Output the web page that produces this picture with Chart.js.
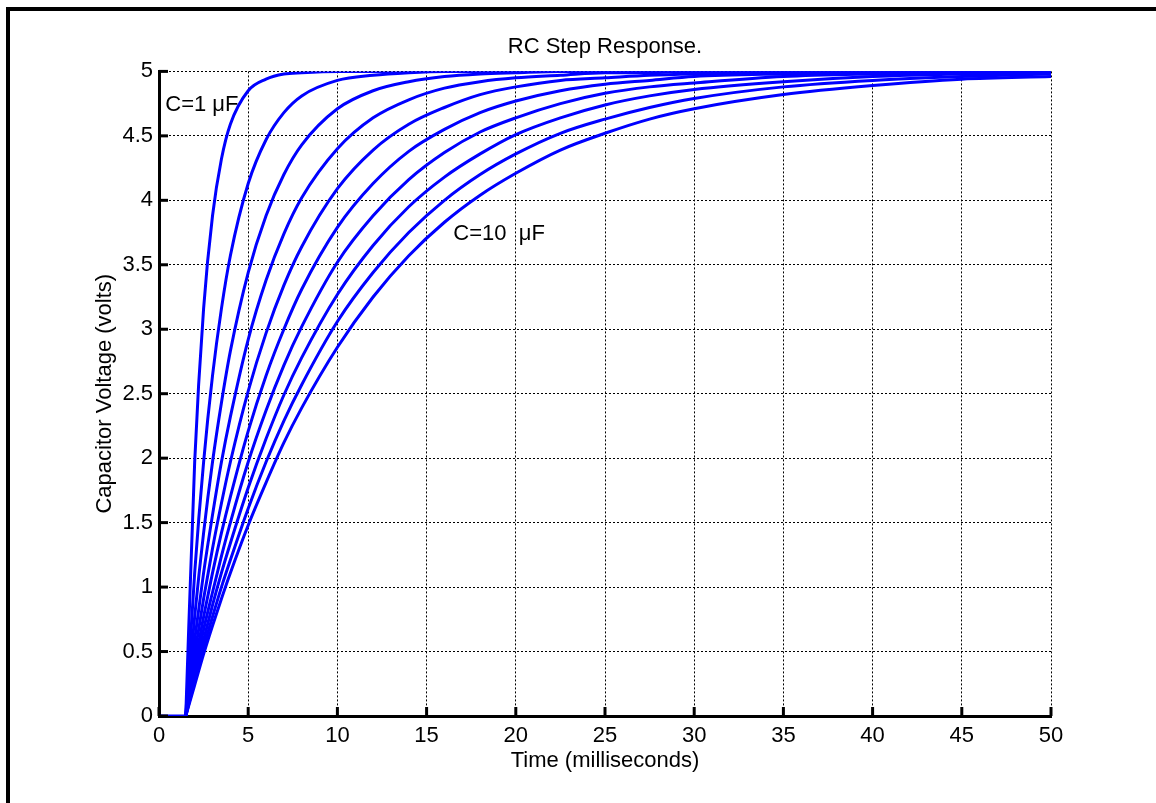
<!DOCTYPE html>
<html>
<head>
<meta charset="utf-8">
<title>RC Step Response</title>
<script src="https://cdn.jsdelivr.net/npm/chart.js@4.4.0/dist/chart.umd.min.js"></script>
<style>
  html, body { margin: 0; padding: 0; background: #fff; }
  #wrap { width: 1156px; height: 803px; }
</style>
</head>
<body>
<div id="wrap"><canvas id="chart" width="1156" height="803"></canvas></div>
<script>
// input is zero until the step at 1.5 ms
const preStepTime = [0, 1.5];
const preStepVolts = [0, 0];

// sample times (ms) after the step, shared by every curve
const timeMs = [1.5, 2, 2.5, 3, 3.5, 4, 5, 6, 7, 8, 10, 12, 14, 16, 18, 20, 22.5, 25, 27.5, 30, 35, 40, 45, 50];

// capacitor voltage (V), one list per capacitor value
const vC1  = [0, 1.97, 3.16, 3.88, 4.32, 4.59, 4.85, 4.94, 4.98, 4.99, 5, 5, 5, 5, 5, 5, 5, 5, 5, 5, 5, 5, 5, 5];
const vC2  = [0, 1.11, 1.97, 2.64, 3.16, 3.57, 4.13, 4.47, 4.68, 4.81, 4.93, 4.97, 4.99, 5, 5, 5, 5, 5, 5, 5, 5, 5, 5, 5];
const vC3  = [0, 0.77, 1.42, 1.97, 2.43, 2.83, 3.44, 3.88, 4.20, 4.43, 4.71, 4.85, 4.92, 4.96, 4.98, 4.99, 5, 5, 5, 5, 5, 5, 5, 5];
const vC4  = [0, 0.59, 1.11, 1.56, 1.97, 2.32, 2.92, 3.38, 3.74, 4.02, 4.40, 4.64, 4.78, 4.87, 4.92, 4.95, 4.97, 4.99, 4.99, 5, 5, 5, 5, 5];
const vC5  = [0, 0.48, 0.91, 1.30, 1.65, 1.97, 2.52, 2.97, 3.34, 3.64, 4.09, 4.39, 4.59, 4.72, 4.82, 4.88, 4.93, 4.95, 4.97, 4.98, 4.99, 5, 5, 5];
const vC6  = [0, 0.40, 0.77, 1.11, 1.42, 1.70, 2.21, 2.64, 3.00, 3.31, 3.79, 4.13, 4.38, 4.55, 4.68, 4.77, 4.85, 4.90, 4.93, 4.96, 4.98, 4.99, 5, 5];
const vC7  = [0, 0.34, 0.67, 0.96, 1.24, 1.50, 1.97, 2.37, 2.72, 3.02, 3.52, 3.88, 4.16, 4.37, 4.53, 4.64, 4.75, 4.83, 4.88, 4.91, 4.96, 4.98, 4.99, 5];
const vC8  = [0, 0.30, 0.59, 0.86, 1.11, 1.34, 1.77, 2.15, 2.49, 2.78, 3.27, 3.65, 3.95, 4.18, 4.36, 4.51, 4.64, 4.74, 4.81, 4.86, 4.92, 4.96, 4.98, 4.99];
const vC9  = [0, 0.27, 0.53, 0.77, 1.00, 1.21, 1.61, 1.97, 2.29, 2.57, 3.06, 3.44, 3.75, 4.00, 4.20, 4.36, 4.52, 4.63, 4.72, 4.79, 4.88, 4.93, 4.96, 4.98];
const vC10 = [0, 0.24, 0.48, 0.70, 0.91, 1.11, 1.48, 1.81, 2.12, 2.39, 2.86, 3.25, 3.57, 3.83, 4.04, 4.21, 4.39, 4.52, 4.63, 4.71, 4.82, 4.89, 4.94, 4.96];

const curves = [vC1, vC2, vC3, vC4, vC5, vC6, vC7, vC8, vC9, vC10];

const xTicks = [0, 5, 10, 15, 20, 25, 30, 35, 40, 45, 50];
const yTicks = [0, 0.5, 1, 1.5, 2, 2.5, 3, 3.5, 4, 4.5, 5];

const FONT = '"Liberation Sans", Arial, Helvetica, sans-serif';
const BLUE = '#0000ff';

const toPoints = (xs, ys) => xs.map((x, i) => ({ x: x, y: ys[i] }));

const datasets = [{
  data: toPoints(preStepTime, preStepVolts),
  borderColor: BLUE,
  borderWidth: 3,
  pointRadius: 0,
}].concat(curves.map((v) => ({
  data: toPoints(timeMs, v),
  borderColor: BLUE,
  borderWidth: 3,
  pointRadius: 0,
  cubicInterpolationMode: 'monotone',
})));

// inward tick marks, curve labels and the figure frame
const matlabLook = {
  id: 'matlabLook',
  afterDraw(chart) {
    const { ctx, chartArea } = chart;
    const x = chart.scales.x;
    const y = chart.scales.y;
    ctx.save();
    ctx.strokeStyle = '#000';
    ctx.lineWidth = 3;
    xTicks.forEach((v) => {
      const px = x.getPixelForValue(v);
      ctx.beginPath();
      ctx.moveTo(px, chartArea.bottom);
      ctx.lineTo(px, chartArea.bottom - 9);
      ctx.stroke();
    });
    yTicks.forEach((v) => {
      const py = y.getPixelForValue(v);
      ctx.beginPath();
      ctx.moveTo(chartArea.left, py);
      ctx.lineTo(chartArea.left + 9, py);
      ctx.stroke();
    });

    ctx.fillStyle = '#000';
    ctx.font = '22px ' + FONT;
    ctx.textAlign = 'left';
    ctx.textBaseline = 'middle';
    ctx.fillText('C=1 \u03bcF', x.getPixelForValue(0.35), y.getPixelForValue(4.74));
    ctx.fillText('C=10  \u03bcF', x.getPixelForValue(16.5), y.getPixelForValue(3.74));

    ctx.lineWidth = 4;
    ctx.beginPath();
    ctx.moveTo(8, chart.height);
    ctx.lineTo(8, 9);
    ctx.lineTo(chart.width, 9);
    ctx.stroke();
    ctx.restore();
  },
};

new Chart(document.getElementById('chart'), {
  type: 'line',
  data: { datasets: datasets },
  plugins: [matlabLook],
  options: {
    responsive: false,
    animation: false,
    layout: { padding: { left: 0, top: 0, right: 105, bottom: 0 } },
    plugins: {
      legend: { display: false },
      tooltip: { enabled: false },
      title: {
        display: true,
        text: 'RC Step Response.',
        fullSize: false,
        color: '#000',
        font: { family: FONT, size: 22, weight: 'normal', lineHeight: 1.2 },
        padding: { top: 34, bottom: 11 },
      },
    },
    scales: {
      x: {
        type: 'linear',
        min: 0,
        max: 50,
        afterFit: (scale) => { scale.height = 87; },
        ticks: {
          stepSize: 5,
          padding: 7,
          color: '#000',
          maxRotation: 0,
          font: { family: FONT, size: 22 },
          callback: (v) => String(v),
        },
        grid: { color: '#000', lineWidth: 1, drawTicks: false },
        border: { display: true, color: '#000', width: 3, dash: [2, 2] },
        title: {
          display: true,
          text: 'Time (milliseconds)',
          color: '#000',
          font: { family: FONT, size: 22 },
          padding: { top: 0, bottom: 29 },
        },
      },
      y: {
        type: 'linear',
        min: 0,
        max: 5,
        afterFit: (scale) => { scale.width = 159; },
        ticks: {
          stepSize: 0.5,
          padding: 6,
          color: '#000',
          font: { family: FONT, size: 22 },
          callback: (v) => String(v),
        },
        grid: { color: '#000', lineWidth: 1, drawTicks: false },
        border: { display: true, color: '#000', width: 3, dash: [2, 2] },
        title: {
          display: true,
          text: 'Capacitor Voltage (volts)',
          color: '#000',
          font: { family: FONT, size: 22 },
          padding: { top: 92, bottom: 0 },
        },
      },
    },
  },
});
</script>
</body>
</html>
